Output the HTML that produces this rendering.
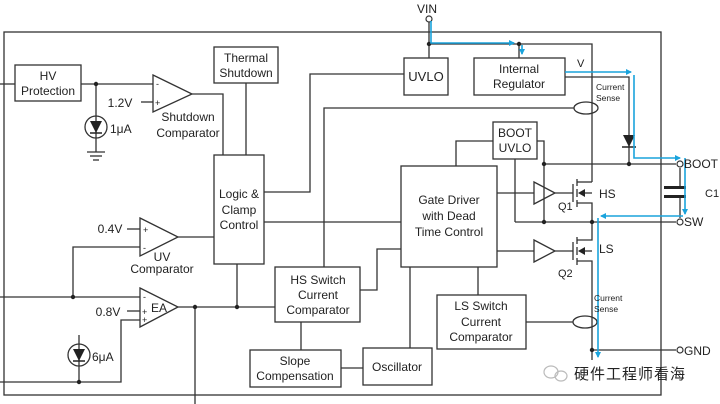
<!DOCTYPE html>
<html><head><meta charset="utf-8"><style>
html,body{margin:0;padding:0;background:#fff;}
svg{display:block;}
text{font-family:"Liberation Sans",Arial,sans-serif;fill:#222;}
</style></head><body>
<svg width="720" height="404" viewBox="0 0 720 404" xmlns="http://www.w3.org/2000/svg">
<defs>
<marker id="ab" markerWidth="6" markerHeight="6" refX="5" refY="3" orient="auto" markerUnits="userSpaceOnUse"><path d="M0,0 L6,3 L0,6 z" fill="#1aa3dc"/></marker>
</defs>
<g fill="none" stroke="#333" stroke-width="1.3">
<rect x="4" y="32" width="657" height="363"/>
<rect x="15" y="65" width="66" height="36"/>
<line x1="0" y1="84" x2="15" y2="84"/>
<line x1="81" y1="84" x2="153" y2="84"/>
<line x1="96" y1="84" x2="96" y2="152"/>
<circle cx="96" cy="127" r="11"/>
<line x1="87" y1="152" x2="105" y2="152"/><line x1="90" y1="156" x2="102" y2="156"/><line x1="93" y1="160" x2="99" y2="160"/>
<path d="M153,75 L192,94 L153,112 Z"/>
<line x1="141" y1="102" x2="153" y2="102"/>
<polyline points="192,94 223,94 223,155"/>
<rect x="214" y="47" width="64" height="36"/>
<line x1="246" y1="83" x2="246" y2="155"/>
<rect x="214" y="155" width="50" height="109"/>
<polyline points="264,192 310,192 310,74 404,74"/>
<polyline points="574,108 324,108 324,267"/>
<line x1="264" y1="222" x2="401" y2="222"/>
<line x1="178" y1="237" x2="214" y2="237"/>
<path d="M140,218 L178,237 L140,256 Z"/>
<line x1="127" y1="229" x2="140" y2="229"/>
<polyline points="140,247 73,247 73,297"/>
<line x1="0" y1="297" x2="140" y2="297"/>
<path d="M140,288 L178,307 L140,327 Z"/>
<line x1="127" y1="311" x2="140" y2="311"/>
<polyline points="140,320 121,320 121,382 0,382"/>
<line x1="79" y1="335" x2="79" y2="382"/>
<circle cx="79" cy="355" r="11"/>
<line x1="178" y1="307" x2="275" y2="307"/>
<line x1="195" y1="307" x2="195" y2="404"/>
<line x1="237" y1="264" x2="237" y2="307"/>
<rect x="275" y="267" width="85" height="55"/>
<polyline points="360,290 377,290 377,249 401,249"/>
<line x1="301" y1="322" x2="301" y2="350"/>
<rect x="250" y="350" width="91" height="37"/>
<line x1="341" y1="368" x2="363" y2="368"/>
<rect x="363" y="348" width="69" height="37"/>
<rect x="401" y="166" width="96" height="101"/>
<line x1="410" y1="267" x2="410" y2="348"/>
<line x1="478" y1="267" x2="478" y2="295"/>
<rect x="437" y="295" width="89" height="54"/>
<line x1="526" y1="322" x2="573" y2="322"/>
<polyline points="456,166 456,141 493,141"/>
<rect x="493" y="122" width="44" height="37"/>
<polyline points="537,141 544,141 544,222"/>
<line x1="515" y1="159" x2="515" y2="222"/>
<line x1="544" y1="164" x2="676" y2="164"/>
<line x1="515" y1="222" x2="676" y2="222"/>
<line x1="497" y1="193" x2="534" y2="193"/>
<path d="M534,182 L555,193 L534,204 Z"/>
<line x1="555" y1="193" x2="573" y2="193"/>
<line x1="573" y1="184" x2="573" y2="202"/>
<line x1="577" y1="179" x2="577" y2="186"/><line x1="577" y1="189" x2="577" y2="197"/><line x1="577" y1="200" x2="577" y2="207"/>
<polyline points="577,182 592,182"/>
<polyline points="577,203 592,203 592,222"/>
<line x1="582" y1="193" x2="592" y2="193"/>
<line x1="497" y1="251" x2="534" y2="251"/>
<path d="M534,240 L555,251 L534,262 Z"/>
<line x1="555" y1="251" x2="573" y2="251"/>
<line x1="573" y1="242" x2="573" y2="260"/>
<line x1="577" y1="237" x2="577" y2="244"/><line x1="577" y1="247" x2="577" y2="255"/><line x1="577" y1="258" x2="577" y2="265"/>
<polyline points="592,222 592,240 577,240"/>
<polyline points="577,261 592,261 592,360"/>
<line x1="582" y1="251" x2="592" y2="251"/>
<line x1="592" y1="350" x2="676" y2="350"/>
<line x1="429" y1="22" x2="429" y2="58"/>
<polyline points="429,44 592,44 592,182"/>
<line x1="519" y1="44" x2="519" y2="58"/>
<rect x="404" y="58" width="44" height="37"/>
<rect x="474" y="58" width="91" height="37"/>
<polyline points="565,77 629,77 629,164"/>
<line x1="680" y1="168" x2="680" y2="187"/>
<line x1="680" y1="196" x2="680" y2="218"/>
<ellipse cx="586" cy="108" rx="12" ry="6"/>
<ellipse cx="585" cy="322" rx="12" ry="6"/>
</g>
<g fill="#222">
<path d="M90,121 L102,121 L96,133 Z"/><line x1="90" y1="133" x2="102" y2="133" stroke="#222" stroke-width="1.5"/>
<path d="M73,349 L85,349 L79,361 Z"/><line x1="73" y1="361" x2="85" y2="361" stroke="#222" stroke-width="1.5"/>
<path d="M623,135 L635,135 L629,147 Z"/><line x1="622" y1="147" x2="636" y2="147" stroke="#222" stroke-width="1.5"/>
<path d="M578,193 L585,189 L585,197 Z"/>
<path d="M578,251 L585,247 L585,255 Z"/>
<rect x="664" y="186" width="22" height="3"/><rect x="664" y="195" width="22" height="3"/>
<circle cx="96" cy="84" r="2.2"/><circle cx="73" cy="297" r="2.2"/><circle cx="79" cy="382" r="2.2"/>
<circle cx="195" cy="307" r="2.2"/><circle cx="237" cy="307" r="2.2"/>
<circle cx="429" cy="44" r="2.2"/><circle cx="519" cy="44" r="2.2"/>
<circle cx="544" cy="164" r="2.2"/><circle cx="629" cy="164" r="2.2"/>
<circle cx="544" cy="222" r="2.2"/><circle cx="592" cy="222" r="2.2"/><circle cx="592" cy="350" r="2.2"/>
</g>
<g fill="#fff" stroke="#333" stroke-width="1.2">
<circle cx="429" cy="19" r="3"/><circle cx="680" cy="164" r="3"/><circle cx="680" cy="222" r="3"/><circle cx="680" cy="350" r="3"/>
</g>
<g fill="none" stroke="#1aa3dc" stroke-width="1.6">
<polyline points="431,21 431,43 514,43" marker-end="url(#ab)"/>
<polyline points="522,45 522,54" marker-end="url(#ab)"/>
<polyline points="565,72 631,72" marker-end="url(#ab)"/>
<polyline points="634,75 634,158 680,158" marker-end="url(#ab)"/>
<polyline points="685,158 685,214" marker-end="url(#ab)"/>
<polyline points="683,216 601,216" marker-end="url(#ab)"/>
<polyline points="598,218 598,357" marker-end="url(#ab)"/>
</g>
<g font-size="12" text-anchor="middle">
<text x="48" y="80">HV</text><text x="48" y="95">Protection</text>
<text x="246" y="62">Thermal</text><text x="246" y="77">Shutdown</text>
<text x="239" y="198">Logic &amp;</text><text x="239" y="214">Clamp</text><text x="239" y="229">Control</text>
<text x="188" y="121">Shutdown</text><text x="188" y="137">Comparator</text>
<text x="162" y="261">UV</text>
<text x="162" y="273">Comparator</text>
<text x="426" y="81" font-size="13">UVLO</text>
<text x="519" y="73">Internal</text><text x="519" y="88">Regulator</text>
<text x="515" y="137">BOOT</text><text x="515" y="152">UVLO</text>
<text x="449" y="204">Gate Driver</text><text x="449" y="220">with Dead</text><text x="449" y="236">Time Control</text>
<text x="318" y="284">HS Switch</text><text x="318" y="299">Current</text><text x="318" y="314">Comparator</text>
<text x="481" y="310">LS Switch</text><text x="481" y="326">Current</text><text x="481" y="341">Comparator</text>
<text x="295" y="365">Slope</text><text x="295" y="380">Compensation</text>
<text x="397" y="371">Oscillator</text>
</g>
<g font-size="12">
<text x="120" y="107" text-anchor="middle">1.2V</text>
<text x="110" y="133">1μA</text>
<text x="110" y="233" text-anchor="middle">0.4V</text>
<text x="108" y="316" text-anchor="middle">0.8V</text>
<text x="92" y="361">6μA</text>
<text x="151" y="312">EA</text>
<text x="599" y="198">HS</text>
<text x="599" y="253">LS</text>
<text x="417" y="13">VIN</text>
<text x="684" y="168">BOOT</text>
<text x="684" y="226">SW</text>
<text x="684" y="355">GND</text>
<text x="705" y="197" font-family="Liberation Mono,monospace" font-size="11">C1</text>
</g>
<g font-size="9" fill="#222">
<text x="156" y="87">-</text><text x="155" y="106">+</text>
<text x="143" y="233">+</text><text x="143" y="251">-</text>
<text x="143" y="300">-</text><text x="142" y="315">+</text><text x="142" y="323">+</text>
</g>
<g font-size="8.5" fill="#555">
<text x="596" y="90">Current</text><text x="596" y="101">Sense</text>
<text x="594" y="301">Current</text><text x="594" y="312">Sense</text>
</g>
<g font-family="Liberation Serif,serif" font-size="11" fill="#d98a2a">
<text x="577" y="67">V</text>
<text x="558" y="210">Q1</text>
<text x="558" y="277">Q2</text>
</g>
<g fill="none" stroke="#bbb" stroke-width="1.2">
<ellipse cx="551" cy="372" rx="7" ry="6"/><ellipse cx="561" cy="376" rx="6" ry="5"/>
</g>
<text x="574" y="379" font-size="15" fill="#999" font-family="'Liberation Sans','Noto Sans CJK SC',sans-serif" letter-spacing="1">硬件工程师看海</text>
</svg>
</body></html>
